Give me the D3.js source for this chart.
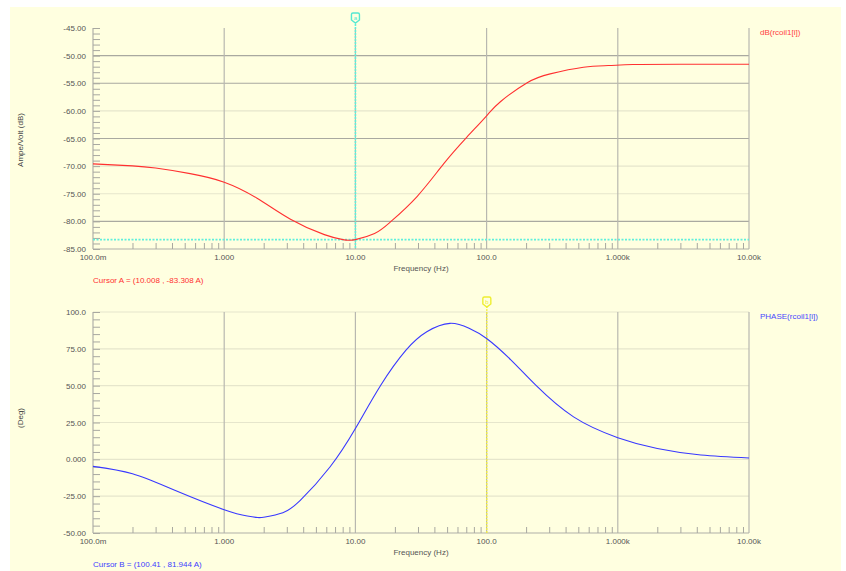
<!DOCTYPE html>
<html>
<head>
<meta charset="utf-8">
<script src="https://cdn.jsdelivr.net/npm/d3@7"></script>
<style>
  html, body { margin: 0; padding: 0; background: #ffffff; }
  svg { display: block; }
  text { font-family: "Liberation Sans", Arial, sans-serif; }
</style>
</head>
<body>
<svg id="chart" width="846" height="571"></svg>
<script>
// ---------------- data ----------------
const freqTicks = [0.1, 1, 10, 100, 1000, 10000];
const freqTickLabels = ["100.0m", "1.000", "10.00", "100.0", "1.000k", "10.00k"];

const dbTicks = [-45, -50, -55, -60, -65, -70, -75, -80, -85];
const dbTickLabels = ["-45.00", "-50.00", "-55.00", "-60.00", "-65.00", "-70.00", "-75.00", "-80.00", "-85.00"];

const phaseTicks = [100, 75, 50, 25, 0, -25, -50];
const phaseTickLabels = ["100.0", "75.00", "50.00", "25.00", "0.000", "-25.00", "-50.00"];

const dbFreq = [0.1, 0.2, 0.3, 0.55, 1, 1.78, 3.2, 5.8, 8.2, 10, 14, 18.5, 29.5, 47, 70.5, 100, 128, 204, 305, 547, 845, 1300, 3000, 10000];
const dbValues = [-69.6, -69.95, -70.35, -71.35, -72.9, -75.8, -79.6, -82.4, -83.35, -83.3, -82.2, -80.1, -75.5, -69.6, -64.8, -60.9, -58.3, -54.9, -53.3, -52.1, -51.8, -51.6, -51.55, -51.55];

const phaseFreq = [0.1, 0.2, 0.42, 1, 1.5, 1.8, 2.05, 2.8, 3.8, 6.4, 10, 15.6, 24.3, 35, 52.6, 73.5, 100, 153, 237, 460, 1000, 2000, 4300, 10000];
const phaseValues = [-4.8, -9.8, -21, -34.2, -38.5, -39.5, -39.1, -36.2, -27.9, -5.2, 20.9, 50.3, 74.1, 86.6, 92.3, 88.9, 82.0, 67.5, 50.3, 28.8, 14.7, 7.3, 2.9, 0.9];

const cursorA = { freq: 10.008, value: -83.308, label: "Cursor A = (10.008 , -83.308 A)" };
const cursorB = { freq: 100.41, value: 81.944, label: "Cursor B = (100.41 , 81.944 A)" };

const topTrace = "dB(rcoil1[i])";
const botTrace = "PHASE(rcoil1[i])";
const topYTitle = "Ampe/Volt (dB)";
const botYTitle = "(Deg)";
const xTitle = "Frequency (Hz)";

// ---------------- layout ----------------
const svg = d3.select("#chart");
svg.append("rect").attr("x", 10).attr("y", 7).attr("width", 831).attr("height", 564).attr("fill", "#ffffe0");

const x = d3.scaleLog().domain([0.1, 10000]).range([93, 749]);
const yTop = d3.scaleLinear().domain([-85, -45]).range([249, 28]);
const yBot = d3.scaleLinear().domain([-50, 100]).range([533, 312]);

const gridDark = "#a9a9a0";
const gridLight = "#e6e6cc";
const axisCol = "#b0b0a8";
const textCol = "#555555";

function minorFreqs() {
  const out = [];
  for (let d = 0.1; d < 10000; d *= 10) for (let k = 2; k <= 9; k++) out.push(d * k);
  return out;
}

function panel(y, ticks, labels, minorStep, darkSet, yRange, opts) {
  const [y0, y1] = yRange;
  const g = svg.append("g");
  ticks.forEach(v => {
    if (v === y.domain()[0]) return;
    if (v === y.domain()[1] && !opts.topBorder) return;
    g.append("line")
      .attr("x1", x.range()[0]).attr("x2", x.range()[1])
      .attr("y1", y(v)).attr("y2", y(v))
      .attr("stroke", darkSet.includes(v) ? gridDark : gridLight)
      .attr("stroke-width", 1.2);
  });
  freqTicks.slice(1).forEach(f => {
    g.append("line")
      .attr("x1", x(f)).attr("x2", x(f))
      .attr("y1", y1).attr("y2", y0)
      .attr("stroke", "#b8b8b0").attr("stroke-width", 1.2);
  });
  g.append("line").attr("x1", x.range()[0]).attr("x2", x.range()[0]).attr("y1", y1).attr("y2", y0)
    .attr("stroke", axisCol).attr("stroke-width", 1.2);
  g.append("line").attr("x1", x.range()[0]).attr("x2", x.range()[1]).attr("y1", y0).attr("y2", y0)
    .attr("stroke", axisCol).attr("stroke-width", 1.2);

  const [dmin, dmax] = y.domain();
  const minor = d3.range(dmin, dmax + 0.001, minorStep);
  const yAxis = d3.axisLeft(y).tickValues(minor).tickSize(-7).tickFormat("");
  const ga = g.append("g").attr("transform", `translate(${x.range()[0]},0)`).call(yAxis);
  ga.select(".domain").remove();
  ga.selectAll(".tick line").attr("stroke", "#a8a8a0").attr("stroke-width", 1);

  ticks.forEach((v, i) => {
    g.append("text").attr("x", 86).attr("y", y(v) + 3)
      .attr("text-anchor", "end").attr("font-size", 8).attr("fill", textCol)
      .text(labels[i]);
  });

  const xAxis = d3.axisBottom(x).tickValues(minorFreqs()).tickSize(-6).tickFormat("");
  const gx = g.append("g").attr("transform", `translate(0,${y0})`).call(xAxis);
  gx.select(".domain").remove();
  gx.selectAll(".tick line").attr("stroke", "#a8a8a0").attr("stroke-width", 1);

  freqTicks.forEach((f, i) => {
    g.append("text").attr("x", x(f)).attr("y", y0 + 11)
      .attr("text-anchor", "middle").attr("font-size", 8).attr("fill", textCol)
      .text(freqTickLabels[i]);
  });
  g.append("text").attr("x", (x.range()[0] + x.range()[1]) / 2).attr("y", y0 + 22)
    .attr("text-anchor", "middle").attr("font-size", 8).attr("fill", textCol)
    .text(xTitle);
  return g;
}

function marker(cx, top, color, letter) {
  const w = 8, h = 9;
  const p = `M${cx - w/2},${top + 1.5} Q${cx - w/2},${top} ${cx - w/2 + 1.5},${top} L${cx + w/2 - 1.5},${top} Q${cx + w/2},${top} ${cx + w/2},${top + 1.5} L${cx + w/2},${top + h - 2} L${cx},${top + h + 1} L${cx - w/2},${top + h - 2} Z`;
  svg.append("path").attr("d", p).attr("fill", "#ffffe0").attr("stroke", color).attr("stroke-width", 1.4);
  svg.append("text").attr("x", cx).attr("y", top + 6.5).attr("text-anchor", "middle")
    .attr("font-size", 6).attr("fill", color).text(letter);
}

// ---------- top panel ----------
panel(yTop, dbTicks, dbTickLabels, 1, [-50, -55, -65, -80], [249, 28], { topBorder: false });
svg.append("text").attr("transform", `translate(23,${140}) rotate(-90)`)
  .attr("text-anchor", "middle").attr("font-size", 8).attr("fill", "#444").text(topYTitle);

const cyan = "#5ff0dc";
svg.append("line").attr("x1", x.range()[0]).attr("x2", x.range()[1])
  .attr("y1", yTop(cursorA.value)).attr("y2", yTop(cursorA.value))
  .attr("stroke", cyan).attr("stroke-width", 1.6).attr("stroke-dasharray", "2,1.5");
svg.append("line").attr("x1", x(cursorA.freq)).attr("x2", x(cursorA.freq))
  .attr("y1", 24).attr("y2", 249)
  .attr("stroke", cyan).attr("stroke-width", 1.6).attr("stroke-dasharray", "2,1");

const lineTop = d3.line().x(d => x(d[0])).y(d => yTop(d[1])).curve(d3.curveNatural);
svg.append("path").datum(dbFreq.map((f, i) => [f, dbValues[i]]))
  .attr("d", lineTop).attr("fill", "none").attr("stroke", "#ff3030").attr("stroke-width", 1.1);

marker(x(cursorA.freq), 13, "#55e8d0", "a");

svg.append("text").attr("x", 760).attr("y", 35).attr("font-size", 8).attr("fill", "#ff4040").text(topTrace);
svg.append("text").attr("x", 93).attr("y", 283).attr("font-size", 8).attr("fill", "#ff3030").text(cursorA.label);

// ---------- bottom panel ----------
panel(yBot, phaseTicks, phaseTickLabels, 5, [], [533, 312], { topBorder: true });
svg.append("text").attr("transform", `translate(23,${418}) rotate(-90)`)
  .attr("text-anchor", "middle").attr("font-size", 8).attr("fill", "#444").text(botYTitle);

const yellow = "#f4f040";
svg.append("line").attr("x1", x(cursorB.freq)).attr("x2", x(cursorB.freq))
  .attr("y1", 306).attr("y2", 533)
  .attr("stroke", yellow).attr("stroke-width", 1.3).attr("stroke-dasharray", "2,1");

const lineBot = d3.line().x(d => x(d[0])).y(d => yBot(d[1])).curve(d3.curveNatural);
svg.append("path").datum(phaseFreq.map((f, i) => [f, phaseValues[i]]))
  .attr("d", lineBot).attr("fill", "none").attr("stroke", "#3838ff").attr("stroke-width", 1.1);

marker(x(cursorB.freq), 297, "#eeee30", "b");

svg.append("text").attr("x", 760).attr("y", 319).attr("font-size", 8).attr("fill", "#4848ff").text(botTrace);
svg.append("text").attr("x", 93).attr("y", 567).attr("font-size", 8).attr("fill", "#4040ff").text(cursorB.label);
</script>
</body>
</html>
